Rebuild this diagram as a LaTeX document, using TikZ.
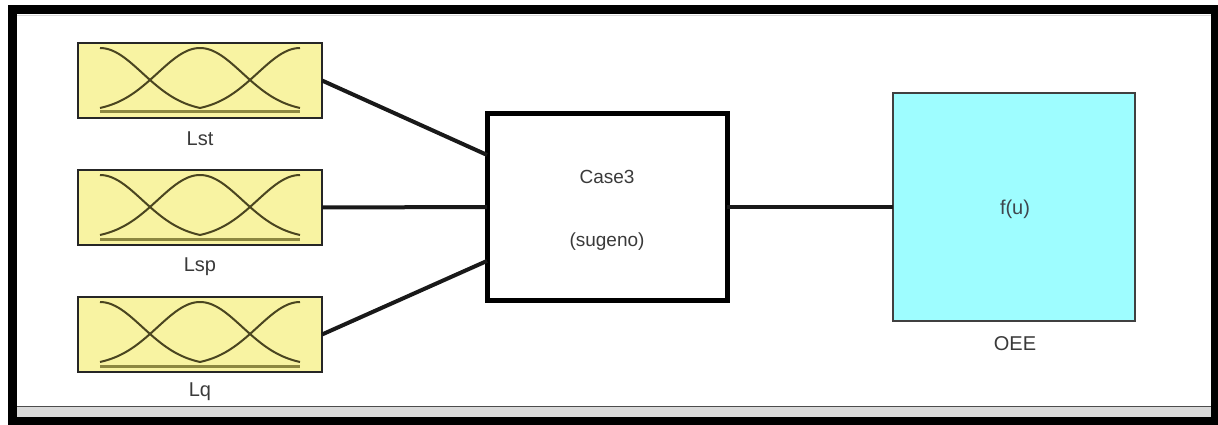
\documentclass[tikz,border=0pt]{standalone}
\usepackage{fontspec}
\setmainfont{Liberation Sans}
\usetikzlibrary{calc}
\definecolor{mfyellow}{HTML}{F8F3A2}
\definecolor{mfline}{HTML}{4A4520}
\definecolor{mfbase}{HTML}{8C8740}
\definecolor{fcyan}{HTML}{9EFDFF}
\definecolor{txtgray}{HTML}{3A3A3A}
\definecolor{bandgray}{HTML}{D9D9D9}
\tikzset{
  mfbox/.style={draw=black!85, line width=1.5pt, fill=mfyellow, minimum width=244pt, minimum height=75pt, inner sep=0pt, outer sep=0pt},
  fisbox/.style={draw=black, line width=5pt, fill=white, minimum width=240pt, minimum height=186pt, inner sep=0pt, outer sep=0pt, align=center, text=txtgray},
  fcnbox/.style={draw=black!75, line width=2pt, fill=fcyan, minimum width=242pt, minimum height=228pt, inner sep=0pt, outer sep=0pt},
  lbl/.style={text=txtgray, font=\fontsize{20}{23}\selectfont, inner sep=0pt},
  wire/.style={line width=4pt, black!90},
  mfcurve/.style={mfline, line width=2pt},
}
\newcommand{\mfcurves}[1]{%
  \begin{scope}[shift={(#1.north west)}]
    \draw[mfbase, line width=3pt] (22,69) -- (222,69);
    \draw[mfcurve] plot[domain=22:122, samples=40] (\x, {5+64*(1-exp(-(\x-22)*(\x-22)/3612.5))});
    \draw[mfcurve] plot[domain=22:222, samples=70] (\x, {5+64*(1-exp(-(\x-122)*(\x-122)/3612.5))});
    \draw[mfcurve] plot[domain=122:222, samples=40] (\x, {5+64*(1-exp(-(\x-222)*(\x-222)/3612.5))});
  \end{scope}}
\begin{document}
\begin{tikzpicture}[x=1pt, y=-1pt]
\useasboundingbox (0,0) rectangle (1218,425);
% window frame
\fill[black] (8,5) rectangle (1218,425);
\fill[white] (17,14) rectangle (1211,406);
\fill[bandgray] (17,406) rectangle (1211,417);
\draw[black!70, line width=1.2pt] (17,406.5) -- (1211,406.5);
\draw[black!15, line width=1.5pt] (17,15.5) -- (1211,15.5);
% input membership blocks
\node[mfbox] (lst) at (200,80.5) {};
\node[mfbox] (lsp) at (200,207.5) {};
\node[mfbox] (lq)  at (200,334.5) {};
\mfcurves{lst}\mfcurves{lsp}\mfcurves{lq}
\node[lbl] (lstl) at (200,139) {Lst};
\node[lbl] (lspl) at (200,267) {Lsp};
\node[lbl] (lql)  at (200,392) {Lq};
% FIS block
\node[fisbox] (fis) at (607,207) {};
\node[lbl, font=\fontsize{19}{22}\selectfont] (fisa) at (607,177) {Case3};
\node[lbl, font=\fontsize{19}{22}\selectfont] (fisb) at (607,242) {(sugeno)};
% function block
\node[fcnbox] (oee) at (1014,207) {};
\node[lbl, text=black!60!cyan!50!black] (fu) at (1015,209) {f(u)};
\node[lbl] (oeel) at (1015,344) {OEE};
% wires
\draw[wire] (lst.east) -- ($(fis.north west)!0.22!(fis.south west)$);
\draw[wire] (lsp.east) -- (fis.west);
\draw[wire] (lq.east) -- ($(fis.north west)!0.79!(fis.south west)$);
\draw[wire] (fis.east) -- (oee.west);
\end{tikzpicture}
\end{document}
